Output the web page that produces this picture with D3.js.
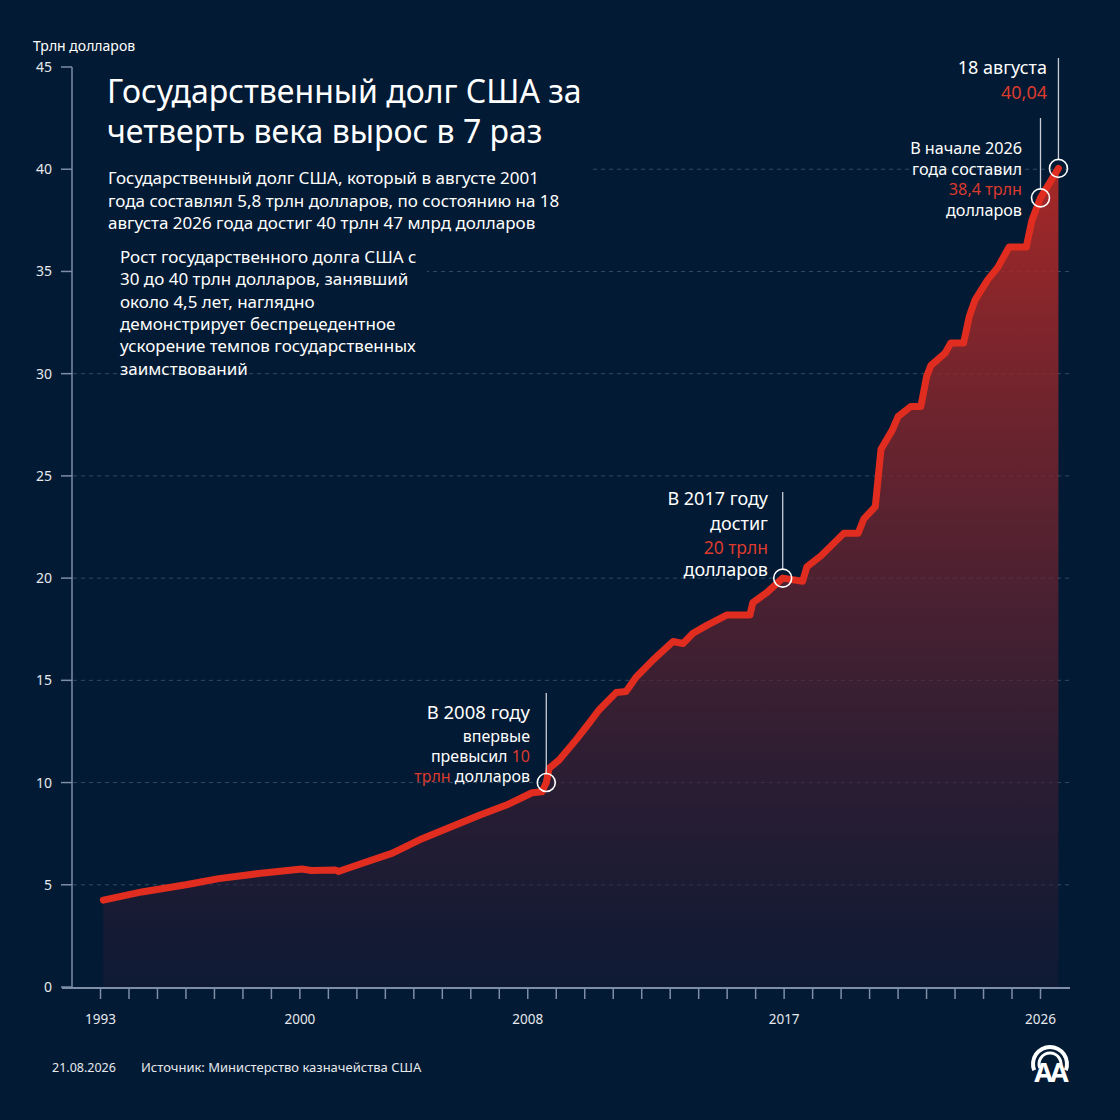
<!DOCTYPE html>
<html>
<head>
<meta charset="utf-8">
<script src="https://cdn.jsdelivr.net/npm/d3@7"></script>
<style>
  html, body { margin: 0; padding: 0; background: #021a33; }
  svg { display: block; font-family: "Noto Sans", "Open Sans", sans-serif; }
</style>
</head>
<body>
<svg id="chart" width="1120" height="1120"></svg>
<script>
// debt values, trillion USD
const years = [1993.1, 1994.45, 1996.0, 1997.15, 1998.55, 2000.07, 2000.4, 2001.25, 2001.35, 2002.3,
  2003.25, 2004.2, 2005.25, 2006.3, 2007.25, 2008.15, 2008.5, 2008.65, 2008.75, 2009.1,
  2009.7, 2010.15, 2010.5, 2011.1, 2011.45, 2011.8, 2012.4, 2013.1, 2013.45, 2013.8,
  2014.3, 2015.0, 2015.8, 2015.9, 2016.4, 2016.95, 2017.65, 2017.8, 2018.3, 2019.1,
  2019.6, 2019.8, 2020.2, 2020.4, 2020.8, 2021.0, 2021.45, 2021.8, 2022.0, 2022.15,
  2022.65, 2022.85, 2023.3, 2023.5, 2023.7, 2024.15, 2024.5, 2024.9, 2025.5, 2025.7,
  2026.0, 2026.63];
const debt = [4.25, 4.65, 5.0, 5.3, 5.55, 5.77, 5.7, 5.72, 5.65, 6.1,
  6.55, 7.2, 7.8, 8.4, 8.9, 9.5, 9.55, 10.0, 10.7, 11.1,
  12.1, 12.9, 13.55, 14.4, 14.45, 15.15, 16.0, 16.9, 16.8, 17.3,
  17.7, 18.2, 18.2, 18.8, 19.3, 20.0, 19.85, 20.55, 21.1, 22.2,
  22.2, 22.9, 23.5, 26.3, 27.25, 27.9, 28.4, 28.4, 29.85, 30.4,
  31.0, 31.5, 31.5, 32.8, 33.6, 34.6, 35.2, 36.2, 36.2, 37.5,
  38.6, 40.04];

const yTicks = [0, 5, 10, 15, 20, 25, 30, 35, 40, 45];
const xLabelYears = [1993, 2000, 2008, 2017, 2026];

const titleLines = ["Государственный долг США за", "четверть века вырос в 7 раз"];
const leadLines = [
  "Государственный долг США, который в августе 2001",
  "года составлял 5,8 трлн долларов, по состоянию на 18",
  "августа 2026 года достиг 40 трлн 47 млрд долларов"
];
const noteLines = [
  "Рост государственного долга США с",
  "30 до 40 трлн долларов, занявший",
  "около 4,5 лет, наглядно",
  "демонстрирует беспрецедентное",
  "ускорение темпов государственных",
  "заимствований"
];

// callouts: each line is a list of [text, isRed] pieces
const callouts = [
  { year: 2008.65, value: 10.0, top: 693, right: 530, lines: [
      [["В 2008 году", false]], [["впервые", false]],
      [["превысил ", false], ["10", true]], [["трлн", true], [" долларов", false]]],
    baselines: [719, 742, 762, 782], sizes: [18.5, 16, 16, 16] },
  { year: 2016.95, value: 20.0, top: 492, right: 768, lines: [
      [["В 2017 году", false]], [["достиг", false]], [["20 трлн", true]], [["долларов", false]]],
    baselines: [505, 530, 554, 576], sizes: [18, 18, 17.5, 18] },
  { year: 2026.0, value: 38.6, top: 118, right: 1022, lines: [
      [["В начале 2026", false]], [["года составил", false]], [["38,4 трлн", true]], [["долларов", false]]],
    baselines: [154, 174.5, 195, 215.5], sizes: [16.2, 16.2, 16.2, 16.2] },
  { year: 2026.63, value: 40.04, top: 58, right: 1047, lines: [
      [["18 августа", false]], [["40,04", true]]],
    baselines: [74, 99], sizes: [18, 18] }
];

const bg = "#021a33";
const red = "#e02d1f";
const redText = "#dc3a2e";
const axisColor = "#7d8ea6";

const svg = d3.select("#chart");
svg.append("rect").attr("width", 1120).attr("height", 1120).attr("fill", bg);

const x = d3.scaleLinear().domain([1993, 2026]).range([100.5, 1040.5]);
const y = d3.scaleLinear().domain([0, 45]).range([987, 67]);

const data = years.map((t, i) => ({ t, v: debt[i] }));

// gradient for area
const defs = svg.append("defs");
const grad = defs.append("linearGradient")
  .attr("id", "areaGrad")
  .attr("gradientUnits", "userSpaceOnUse")
  .attr("x1", 0).attr("x2", 0)
  .attr("y1", y(40)).attr("y2", y(0));
grad.append("stop").attr("offset", "0%").attr("stop-color", "#b82a26").attr("stop-opacity", 0.9);
grad.append("stop").attr("offset", "50%").attr("stop-color", "#6e2430").attr("stop-opacity", 0.7);
grad.append("stop").attr("offset", "100%").attr("stop-color", "#181a35").attr("stop-opacity", 0.55);

// gridlines
svg.append("g")
  .selectAll("line")
  .data(yTicks.filter(d => d > 0 && d < 45))
  .join("line")
  .attr("x1", 73).attr("x2", 1070)
  .attr("y1", d => y(d)).attr("y2", d => y(d))
  .attr("stroke", "#4a6079")
  .attr("stroke-opacity", 0.7)
  .attr("stroke-width", 1)
  .attr("stroke-dasharray", "4,4");

// area + line
const area = d3.area().x(d => x(d.t)).y0(y(0)).y1(d => y(d.v));
const line = d3.line().x(d => x(d.t)).y(d => y(d.v));

svg.append("path").datum(data)
  .attr("d", area)
  .attr("fill", "url(#areaGrad)");

svg.append("path").datum(data)
  .attr("d", line)
  .attr("fill", "none")
  .attr("stroke", red)
  .attr("stroke-width", 7)
  .attr("stroke-linejoin", "round")
  .attr("stroke-linecap", "round");

// y axis
const yAxis = svg.append("g");
yAxis.append("line")
  .attr("x1", 72).attr("x2", 72)
  .attr("y1", y(45)).attr("y2", y(0))
  .attr("stroke", axisColor).attr("stroke-width", 1.5);
yAxis.selectAll(".tick")
  .data(yTicks)
  .join("line")
  .attr("x1", 61).attr("x2", 72)
  .attr("y1", d => y(d)).attr("y2", d => y(d))
  .attr("stroke", axisColor).attr("stroke-width", 1.5);
yAxis.selectAll("text")
  .data(yTicks)
  .join("text")
  .attr("x", 52)
  .attr("y", d => y(d) + 5)
  .attr("text-anchor", "end")
  .attr("fill", "#e6e9ee")
  .style("font-size", "14px")
  .text(d => d);

svg.append("text")
  .attr("x", 33).attr("y", 51)
  .attr("fill", "#ffffff")
  .style("font-size", "14px")
  .text("Трлн долларов");

// x axis
const xAxis = svg.append("g");
xAxis.append("line")
  .attr("x1", 62).attr("x2", 1070)
  .attr("y1", 988).attr("y2", 988)
  .attr("stroke", axisColor).attr("stroke-width", 2);
xAxis.selectAll(".tick")
  .data(d3.range(1993, 2027))
  .join("line")
  .attr("x1", d => x(d)).attr("x2", d => x(d))
  .attr("y1", 988).attr("y2", 999)
  .attr("stroke", axisColor).attr("stroke-width", 1.5);
xAxis.selectAll("text")
  .data(xLabelYears)
  .join("text")
  .attr("x", d => x(d))
  .attr("y", 1024)
  .attr("text-anchor", "middle")
  .attr("fill", "#e6e9ee")
  .style("font-size", "13.5px")
  .text(d => d);

// text blocks with background boxes hiding the gridlines
svg.append("rect").attr("x", 73).attr("y", 150).attr("width", 520).attr("height", 88).attr("fill", bg);
svg.append("rect").attr("x", 73).attr("y", 242).attr("width", 354).attr("height", 126).attr("fill", bg);

svg.append("g").selectAll("text")
  .data(titleLines)
  .join("text")
  .attr("x", 107)
  .attr("y", (d, i) => 103 + i * 39.5)
  .attr("fill", "#ffffff")
  .style("font-size", "32px")
  .text(d => d);

svg.append("g").selectAll("text")
  .data(leadLines)
  .join("text")
  .attr("x", 108)
  .attr("y", (d, i) => 184 + i * 22.5)
  .attr("fill", "#ffffff")
  .style("font-size", "17px")
  .text(d => d);

svg.append("g").selectAll("text")
  .data(noteLines)
  .join("text")
  .attr("x", 120)
  .attr("y", (d, i) => 263 + i * 22.3)
  .attr("fill", "#ffffff")
  .style("font-size", "17px")
  .text(d => d);

// callouts
callouts.forEach(c => {
  const cx = x(c.year), cy = y(c.value);
  svg.append("line")
    .attr("x1", cx).attr("x2", cx)
    .attr("y1", c.top).attr("y2", cy - 9)
    .attr("stroke", "#c9ced6").attr("stroke-width", 1.3);
  svg.append("circle")
    .attr("cx", cx).attr("cy", cy).attr("r", 9)
    .attr("fill", "none")
    .attr("stroke", "#ffffff").attr("stroke-width", 1.6);
  c.lines.forEach((parts, i) => {
    const t = svg.append("text")
      .attr("x", c.right)
      .attr("y", c.baselines[i])
      .attr("text-anchor", "end")
      .style("font-size", c.sizes[i] + "px");
    parts.forEach(([s, isRed]) => {
      t.append("tspan").attr("fill", isRed ? redText : "#ffffff").text(s);
    });
  });
});

// footer
svg.append("text")
  .attr("x", 52).attr("y", 1072)
  .attr("fill", "#e6e9ee")
  .style("font-size", "12.5px")
  .text("21.08.2026");
svg.append("text")
  .attr("x", 141).attr("y", 1072)
  .attr("fill", "#e6e9ee")
  .style("font-size", "13px")
  .text("Источник: Министерство казначейства США");

// AA logo
const logo = svg.append("g").attr("transform", "translate(1050, 1064)");
const arcGen = d3.arc();
[[15, 19], [9.5, 12.5]].forEach(([r0, r1]) => {
  logo.append("path")
    .attr("d", arcGen({ innerRadius: r0, outerRadius: r1, startAngle: -Math.PI * 0.62, endAngle: Math.PI * 0.62 }))
    .attr("fill", "#ffffff");
});
logo.append("text")
  .attr("x", 0).attr("y", 18)
  .attr("text-anchor", "middle")
  .attr("fill", "#ffffff")
  .style("font-size", "27px")
  .style("font-weight", "bold")
  .style("letter-spacing", "-3px")
  .text("AA");
</script>
</body>
</html>
